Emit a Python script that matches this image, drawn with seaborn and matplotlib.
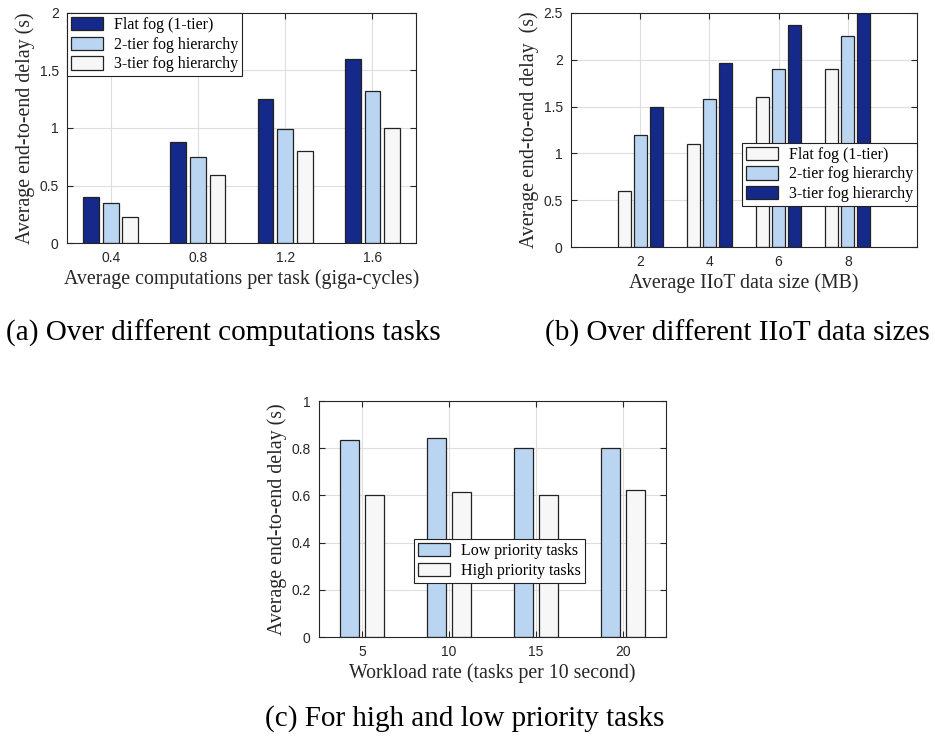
import matplotlib
matplotlib.use("Agg")
import matplotlib.pyplot as plt
from matplotlib.patches import Patch
from matplotlib.ticker import FormatStrFormatter
import pandas as pd
import seaborn as sns

# (a) delay vs computations per task
comp_x = [0.4, 0.8, 1.2, 1.6]
comp_flat = [0.40, 0.88, 1.25, 1.60]
comp_2tier = [0.35, 0.75, 0.99, 1.32]
comp_3tier = [0.23, 0.59, 0.80, 1.00]

# (b) delay vs data size
size_x = [2, 4, 6, 8]
size_flat = [0.60, 1.10, 1.60, 1.90]
size_2tier = [1.20, 1.58, 1.90, 2.25]
size_3tier = [1.50, 1.97, 2.37, 2.50]

# (c) delay vs workload rate
rate_x = [5, 10, 15, 20]
rate_low = [0.835, 0.845, 0.80, 0.80]
rate_high = [0.60, 0.615, 0.60, 0.625]

tiers = ["Flat fog (1-tier)", "2-tier fog hierarchy", "3-tier fog hierarchy"]
prio = ["Low priority tasks", "High priority tasks"]

NAVY = "#15298a"
LIGHT = "#bad5f2"
WHITE = "#f7f7f7"

SERIF = ["Liberation Serif", "DejaVu Serif"]
SANS = ["Liberation Sans", "DejaVu Sans"]


def long_df(xs, series, names):
    rows = []
    for name, vals in zip(names, series):
        for x, v in zip(xs, vals):
            rows.append({"x": x, "delay": v, "series": name})
    return pd.DataFrame(rows)


def style_axes(ax, xlim, xticks, ylim, yticks, xlabel, ylabel):
    ax.set_xlim(*xlim)
    ax.set_ylim(*ylim)
    ax.set_xticks(xticks)
    ax.set_yticks(yticks)
    ax.yaxis.set_major_formatter(FormatStrFormatter("%g"))
    ax.xaxis.set_major_formatter(FormatStrFormatter("%g"))
    ax.grid(True, color="#dedede", linewidth=0.8)
    ax.set_axisbelow(True)
    ax.tick_params(direction="in", top=True, right=True, length=4,
                   labelsize=10, colors="#262626", pad=6)
    for lab in ax.get_xticklabels() + ax.get_yticklabels():
        lab.set_family(SANS)
    for s in ax.spines.values():
        s.set_color("#262626")
        s.set_linewidth(0.8)
    ax.set_xlabel(xlabel, family=SERIF, fontsize=14.3, color="#262626", labelpad=3)
    ax.set_ylabel(ylabel, family=SERIF, fontsize=14.3, color="#262626", labelpad=3)


def add_legend(ax, names, colors, **kw):
    handles = [Patch(facecolor=c, edgecolor="#222222", linewidth=0.9) for c in colors]
    leg = ax.legend(handles, names, prop={"family": SERIF, "size": 11.5},
                    fancybox=False, edgecolor="#222222", framealpha=1,
                    borderaxespad=0, handlelength=2.0, handleheight=0.9,
                    handletextpad=0.7, borderpad=0.25, labelspacing=0.22, **kw)
    leg.get_frame().set_linewidth(0.8)


fig = plt.figure(figsize=(9.35, 7.42), dpi=100)
ax_a = fig.add_axes([0.0717, 0.6725, 0.3733, 0.31])
ax_b = fig.add_axes([0.6107, 0.6671, 0.370, 0.3154])
ax_c = fig.add_axes([0.3412, 0.1415, 0.3711, 0.318])

bar_kw = dict(x="x", y="delay", hue="series", native_scale=True, saturation=1,
              edgecolor="#222222", linewidth=0.9, errorbar=None, legend=False)

# panel (a)
df_a = long_df(comp_x, [comp_flat, comp_2tier, comp_3tier], tiers)
pal_a = dict(zip(tiers, [NAVY, LIGHT, WHITE]))
sns.barplot(data=df_a, ax=ax_a, hue_order=tiers, palette=pal_a,
            width=0.675, gap=0.2, **bar_kw)
style_axes(ax_a, (0.2, 1.8), comp_x, (0, 2), [0, 0.5, 1, 1.5, 2],
           "Average computations per task (giga-cycles)",
           "Average end-to-end delay (s)")
add_legend(ax_a, tiers, [NAVY, LIGHT, WHITE], loc="upper left")

# panel (b)
df_b = long_df(size_x, [size_flat, size_2tier, size_3tier], tiers)
pal_b = dict(zip(tiers, [WHITE, LIGHT, NAVY]))
sns.barplot(data=df_b, ax=ax_b, hue_order=tiers, palette=pal_b,
            width=0.69, gap=0.18, **bar_kw)
style_axes(ax_b, (0, 10), size_x, (0, 2.5), [0, 0.5, 1, 1.5, 2, 2.5],
           "Average IIoT data size (MB)",
           "Average end-to-end delay  (s)")
add_legend(ax_b, tiers, [WHITE, LIGHT, NAVY], loc="lower right",
           bbox_to_anchor=(1.0, 0.175))

# panel (c)
df_c = long_df(rate_x, [rate_low, rate_high], prio)
pal_c = dict(zip(prio, [LIGHT, WHITE]))
sns.barplot(data=df_c, ax=ax_c, hue_order=prio, palette=pal_c,
            width=0.576, gap=0.24, **bar_kw)
style_axes(ax_c, (2.5, 22.5), rate_x, (0, 1), [0, 0.2, 0.4, 0.6, 0.8, 1],
           "Workload rate (tasks per 10 second)",
           "Average end-to-end delay (s)")
add_legend(ax_c, prio, [LIGHT, WHITE], loc="lower left",
           bbox_to_anchor=(0.274, 0.229))

# sub-captions
cap_kw = dict(family=SERIF, fontsize=21, ha="center", va="center", color="black")
fig.text(223 / 935, 1 - 333 / 742, "(a) Over different computations tasks", **cap_kw)
fig.text(737 / 935, 1 - 333 / 742, "(b) Over different IIoT data sizes", **cap_kw)
fig.text(465 / 935, 1 - 719 / 742, "(c) For high and low priority tasks", **cap_kw)

fig.savefig("out.png", dpi=100)
